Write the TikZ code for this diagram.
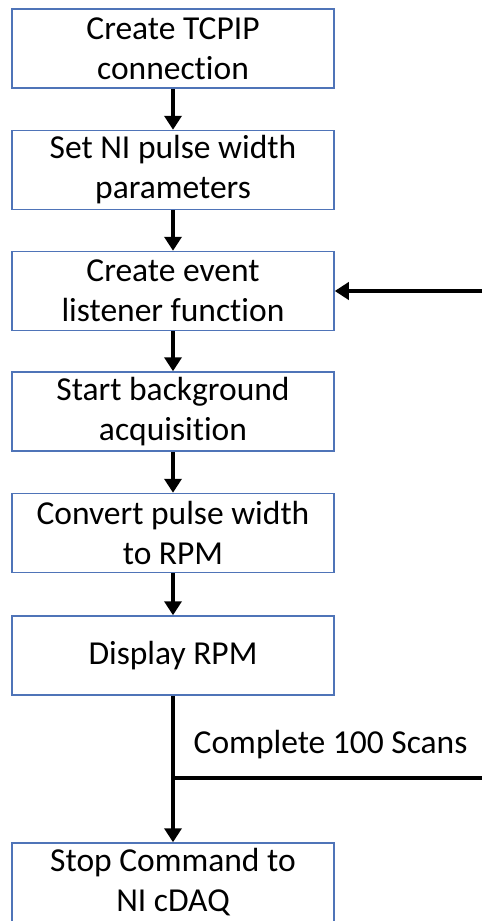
\documentclass[tikz,border=0pt]{standalone}
\usepackage{fontspec}
\setmainfont{Carlito}[Ligatures=NoCommon]
\usepackage{tikz}
\usetikzlibrary{arrows.meta}
\definecolor{boxblue}{HTML}{4F74B8}

\tikzset{
  stepbox/.style={draw=boxblue,line width=1.5pt,minimum width=322pt,minimum height=79pt,
    align=center,font=\fontsize{33.5}{40}\selectfont,inner sep=0pt},
  flow/.style={line width=4.5pt,-{Triangle[length=14pt,width=17pt]}}
}

\begin{document}
\begin{tikzpicture}[x=1pt,y=-1pt]
\useasboundingbox (0,0) rectangle (482,921);
\node[stepbox] (tcpip) at (173,48.5) {Create TCPIP\\connection};
\node[stepbox] (pulse) at (173,170) {Set NI pulse width\\parameters};
\node[stepbox] (listen) at (173,291) {Create event\\listener function};
\node[stepbox] (acq) at (173,411.5) {Start background\\acquisition};
\node[stepbox] (conv) at (173,533) {Convert pulse width\\to RPM};
\node[stepbox] (disp) at (173,655.5) {Display RPM};
\node[stepbox] (stop) at (173,882.5) {Stop Command to\\NI cDAQ};
\coordinate (split) at (173,778);
\coordinate (loopout) at (482,778);
\coordinate (loopin) at (482,291);
\draw[flow] (tcpip) -- (pulse);
\draw[flow] (pulse) -- (listen);
\draw[flow] (listen) -- (acq);
\draw[flow] (acq) -- (conv);
\draw[flow] (conv) -- (disp);
\draw[flow] (disp) -- (stop);
\draw[line width=4.5pt] (split) -- (loopout)
  node[pos=0.51,above=14pt,font=\fontsize{33.5}{40}\selectfont] (scans) {Complete 100 Scans};
\draw[flow] (loopin) -- (listen);
\end{tikzpicture}
\end{document}
